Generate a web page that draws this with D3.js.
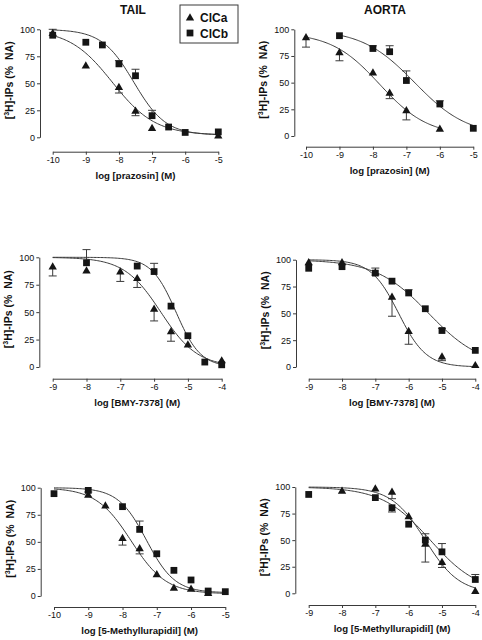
<!DOCTYPE html>
<html><head><meta charset="utf-8">
<script src="https://cdn.jsdelivr.net/npm/d3@7"></script>
<style>
body{margin:0;background:#fff}
svg{display:block}
text{font-family:"Liberation Sans",Arial,Helvetica,sans-serif;fill:#111;white-space:pre}
</style>
</head><body>
<svg id="chart" width="482" height="640"></svg>
<script>
// ---------- DATA ----------
const columnTitles = ["TAIL", "AORTA"];
const seriesNames = ["ClCa", "ClCb"];
const yTickValues = [0, 25, 50, 75, 100];
const xTicksPraz = [-10, -9, -8, -7, -6, -5];
const xTicksBmy = [-9, -8, -7, -6, -5, -4];
const xTicksMu = [-10, -9, -8, -7, -6, -5];
const xTicksMuAorta = [-9, -8, -7, -6, -5, -4];
const drugLabels = ["log [prazosin] (M)", "log [BMY-7378] (M)", "log [5-Methyllurapidil] (M)"];

// Tail / prazosin
const tailPraz_logA = [-10, -9, -8, -7.5, -7, -5];
const tailPraz_respA = [96, 66, 46, 24, 8, 1];
const tailPraz_errA = [4, 0, -5, -4, 0, 0];
const tailPraz_logB = [-10, -9, -8.5, -8, -7.5, -7, -6.5, -6, -5];
const tailPraz_respB = [94.5, 88, 85.5, 68, 57, 20, 9.5, 4.5, 5];
const tailPraz_errB = [0, 0, 0, 3, 6, 5, 0, 0, 0];
const tailPraz_fitA = [100, 2, -8.2, 0.67];   // top, bottom, logIC50, Hill slope
const tailPraz_fitB = [100, 2, -7.55, 0.9];

// Aorta / prazosin
const aortaPraz_logA = [-10, -9, -8, -7.5, -7, -6];
const aortaPraz_respA = [92, 78, 59, 40, 23.5, 6.3];
const aortaPraz_errA = [-8.7, -7.5, 0, -5, -8.4, 0];
const aortaPraz_logB = [-9, -8, -7.5, -7, -6, -5];
const aortaPraz_respB = [94, 82, 79, 52, 30, 7.2];
const aortaPraz_errB = [0, 2.5, 5.6, 9, 3, 0];
const aortaPraz_fitA = [97, 0, -7.8, 0.6];
const aortaPraz_fitB = [100, 0, -6.75, 0.55];

// Tail / BMY-7378
const tailBmy_logA = [-9, -8, -7, -6.5, -6, -5.5, -5, -4];
const tailBmy_respA = [91, 87.5, 86.5, 80.5, 52.5, 32, 20, 5.5];
const tailBmy_errA = [-8, 0, -8.5, -8, -10.5, -8.5, 0, 0];
const tailBmy_logB = [-8, -6.5, -6, -5.5, -5, -4.5, -4];
const tailBmy_respB = [95, 92, 87, 55.5, 28.5, 4.5, 2];
const tailBmy_errB = [12, 0, 7.5, 0, 0, 0, 0];
const tailBmy_fitA = [100, 0, -5.8, 0.8];
const tailBmy_fitB = [100, 0, -5.35, 1.2];

// Aorta / BMY-7378
const aortaBmy_logA = [-9, -8, -7, -6.5, -6, -5, -4];
const aortaBmy_respA = [97, 97, 87.5, 65, 33, 9.3, 1.2];
const aortaBmy_errA = [0, 0, 0, -17.7, -11.8, -3.4, 0];
const aortaBmy_logB = [-9, -8, -7, -6.5, -6, -5.5, -5, -4];
const aortaBmy_respB = [92, 93.5, 87.5, 80, 69, 54.3, 34, 15.5];
const aortaBmy_errB = [0, 0, 4.7, 0, 3, 0, 2, 0];
const aortaBmy_fitA = [100, 0, -6.3, 1.05];
const aortaBmy_fitB = [100, 0, -5.4, 0.55];

// Tail / 5-Methylurapidil
const tailMu_logA = [-9, -8.5, -8, -7.5, -7, -6.5, -6, -5.5];
const tailMu_respA = [93, 83, 53, 43.5, 19.5, 7, 6.2, 2.2];
const tailMu_errA = [3, 0, -6, -4.6, 0, 0, 0, 0];
const tailMu_logB = [-10, -9, -8, -7.5, -7, -6.5, -6, -5.5, -5];
const tailMu_respB = [94.5, 97.5, 82.5, 61.5, 39, 23.7, 14.8, 4.6, 4];
const tailMu_errB = [0, 0, 0, 7.7, 0, 0, 0, 0, 0];
const tailMu_fitA = [100, 2, -7.75, 0.85];
const tailMu_fitB = [100, 3, -7.3, 1.05];

// Aorta / 5-Methylurapidil
const aortaMu_logA = [-8, -7, -6.5, -6, -5.5, -5, -4];
const aortaMu_respA = [96, 98, 95, 72, 46, 29, 1.6];
const aortaMu_errA = [0, 0, -6, 0, -16.6, -4.7, 0];
const aortaMu_logB = [-9, -7, -6.5, -6, -5.5, -5, -4];
const aortaMu_respB = [93, 90, 80.5, 65, 50, 39, 13];
const aortaMu_errB = [0, 0, -4, 0, 6, 7.8, 4.7];
const aortaMu_fitA = [100, 0, -5.5, 0.85];
const aortaMu_fitB = [100, 0, -5.35, 0.6];

// ---------- LAYOUT (pixel geometry of each panel) ----------
// yAxisX, y0px, y100px, xAxisY, xMinPx, xMaxPx
const panelGeom = [
  [40, 137.3, 29.3, 151.7, 52.7, 218.3],
  [294.3, 136, 29.3, 146.7, 306, 473.3],
  [39.3, 367, 257.3, 378.7, 52.7, 221.7],
  [296, 367, 259.7, 378.7, 308.7, 475.3],
  [40.7, 596, 487.7, 607, 54, 225.3],
  [295.3, 593.3, 487, 605, 308.7, 475.3]
];

const panels = [
  {ticks: xTicksPraz, label: drugLabels[0],
   A: [tailPraz_logA, tailPraz_respA, tailPraz_errA, tailPraz_fitA, [-10, -5]],
   B: [tailPraz_logB, tailPraz_respB, tailPraz_errB, tailPraz_fitB, [-10, -5]]},
  {ticks: xTicksPraz, label: drugLabels[0],
   A: [aortaPraz_logA, aortaPraz_respA, aortaPraz_errA, aortaPraz_fitA, [-10, -6]],
   B: [aortaPraz_logB, aortaPraz_respB, aortaPraz_errB, aortaPraz_fitB, [-9, -5]]},
  {ticks: xTicksBmy, label: drugLabels[1],
   A: [tailBmy_logA, tailBmy_respA, tailBmy_errA, tailBmy_fitA, [-9, -4]],
   B: [tailBmy_logB, tailBmy_respB, tailBmy_errB, tailBmy_fitB, [-9, -4]]},
  {ticks: xTicksBmy, label: drugLabels[1],
   A: [aortaBmy_logA, aortaBmy_respA, aortaBmy_errA, aortaBmy_fitA, [-9, -4]],
   B: [aortaBmy_logB, aortaBmy_respB, aortaBmy_errB, aortaBmy_fitB, [-9, -4]]},
  {ticks: xTicksMu, label: drugLabels[2],
   A: [tailMu_logA, tailMu_respA, tailMu_errA, tailMu_fitA, [-10, -5]],
   B: [tailMu_logB, tailMu_respB, tailMu_errB, tailMu_fitB, [-10, -5]]},
  {ticks: xTicksMuAorta, label: drugLabels[2],
   A: [aortaMu_logA, aortaMu_respA, aortaMu_errA, aortaMu_fitA, [-9, -4]],
   B: [aortaMu_logB, aortaMu_respB, aortaMu_errB, aortaMu_fitB, [-9, -4]]}
];

// ---------- DRAW ----------
const svg = d3.select("#chart");
const ink = "#151515";
const lineCol = "#3a3a3a";
const font = '"Liberation Sans",Arial,sans-serif';

const hill = (p, x) => p[1] + (p[0] - p[1]) / (1 + Math.pow(10, (x - p[2]) * p[3]));
const triSym = d3.symbol().type(d3.symbolTriangle).size(30);
const sqSym = d3.symbol().type(d3.symbolSquare).size(46);

panels.forEach((p, i) => {
  const [yAxisX, y0, y100, xAxisY, xMinPx, xMaxPx] = panelGeom[i];
  const x = d3.scaleLinear().domain([p.ticks[0], p.ticks[p.ticks.length - 1]]).range([xMinPx, xMaxPx]);
  const y = d3.scaleLinear().domain([0, 100]).range([y0, y100]);
  const g = svg.append("g");

  // y axis
  const yAx = g.append("g").attr("transform", `translate(${yAxisX},0)`)
    .call(d3.axisLeft(y).tickValues(yTickValues).tickSize(3).tickPadding(2).tickSizeOuter(0));
  yAx.select(".domain").attr("stroke", lineCol).attr("stroke-width", 1);
  yAx.selectAll(".tick line").attr("stroke", lineCol);
  yAx.selectAll("text").attr("font-size", 9).attr("font-family", font).attr("fill", ink);

  // x axis
  const xAx = g.append("g").attr("transform", `translate(0,${xAxisY})`)
    .call(d3.axisBottom(x).tickValues(p.ticks).tickSize(3).tickPadding(2).tickSizeOuter(0)
      .tickFormat(d => d3.format("d")(d).replace("−", "-")));
  xAx.select(".domain").attr("stroke", lineCol).attr("stroke-width", 1);
  xAx.selectAll(".tick line").attr("stroke", lineCol);
  xAx.selectAll("text").attr("font-size", 9).attr("font-family", font).attr("fill", ink);

  // x label
  g.append("text").attr("x", (xMinPx + xMaxPx) / 2).attr("y", xAxisY + 27)
    .attr("text-anchor", "middle").attr("font-size", 9.6).attr("font-weight", "bold")
    .text(p.label);

  // y label
  const yl = g.append("text")
    .attr("transform", `translate(${yAxisX - 27},${(y0 + y100) / 2 - 3}) rotate(-90)`)
    .attr("text-anchor", "middle").attr("font-size", 10.5).attr("font-weight", "bold");
  yl.append("tspan").text("[");
  yl.append("tspan").attr("font-size", 7).attr("dy", -4).text("3");
  yl.append("tspan").attr("dy", 4).text("H]-IPs (%  NA)");

  // curves
  [p.A, p.B].forEach(s => {
    const fit = s[3], dom = s[4];
    const xs = d3.range(0, 121).map(k => dom[0] + (dom[1] - dom[0]) * k / 120);
    g.append("path")
      .attr("d", d3.line().x(v => x(v)).y(v => y(hill(fit, v)))(xs))
      .attr("fill", "none").attr("stroke", lineCol).attr("stroke-width", 1);
  });

  // error bars
  [p.A, p.B].forEach(s => {
    s[0].forEach((lx, k) => {
      const e = s[2][k];
      if (!e) return;
      const yv = s[1][k];
      g.append("line").attr("x1", x(lx)).attr("x2", x(lx))
        .attr("y1", y(yv)).attr("y2", y(yv + e)).attr("stroke", lineCol).attr("stroke-width", 1);
      g.append("line").attr("x1", x(lx) - 4).attr("x2", x(lx) + 4)
        .attr("y1", y(yv + e)).attr("y2", y(yv + e)).attr("stroke", lineCol).attr("stroke-width", 1);
    });
  });

  // markers
  g.selectAll(".tri").data(p.A[0].map((lx, k) => [lx, p.A[1][k]])).enter()
    .append("path").attr("d", triSym)
    .attr("transform", d => `translate(${x(d[0])},${y(d[1])})`).attr("fill", ink);
  g.selectAll(".sq").data(p.B[0].map((lx, k) => [lx, p.B[1][k]])).enter()
    .append("path").attr("d", sqSym)
    .attr("transform", d => `translate(${x(d[0])},${y(d[1])})`).attr("fill", ink);
});

// column titles
svg.append("text").attr("x", 133).attr("y", 14).attr("text-anchor", "middle")
  .attr("font-size", 12).attr("font-weight", "bold").text(columnTitles[0]);
svg.append("text").attr("x", 385).attr("y", 14).attr("text-anchor", "middle")
  .attr("font-size", 12).attr("font-weight", "bold").text(columnTitles[1]);

// legend
const lg = svg.append("g");
lg.append("rect").attr("x", 180).attr("y", 5).attr("width", 58).attr("height", 38)
  .attr("fill", "#fff").attr("stroke", lineCol).attr("stroke-width", 1);
lg.append("path").attr("d", triSym).attr("transform", "translate(190,18)").attr("fill", ink);
lg.append("path").attr("d", sqSym).attr("transform", "translate(190,33)").attr("fill", ink);
lg.append("text").attr("x", 200).attr("y", 22).attr("font-size", 12).attr("font-weight", "bold").text(seriesNames[0]);
lg.append("text").attr("x", 200).attr("y", 37.5).attr("font-size", 12).attr("font-weight", "bold").text(seriesNames[1]);
</script>
</body></html>
